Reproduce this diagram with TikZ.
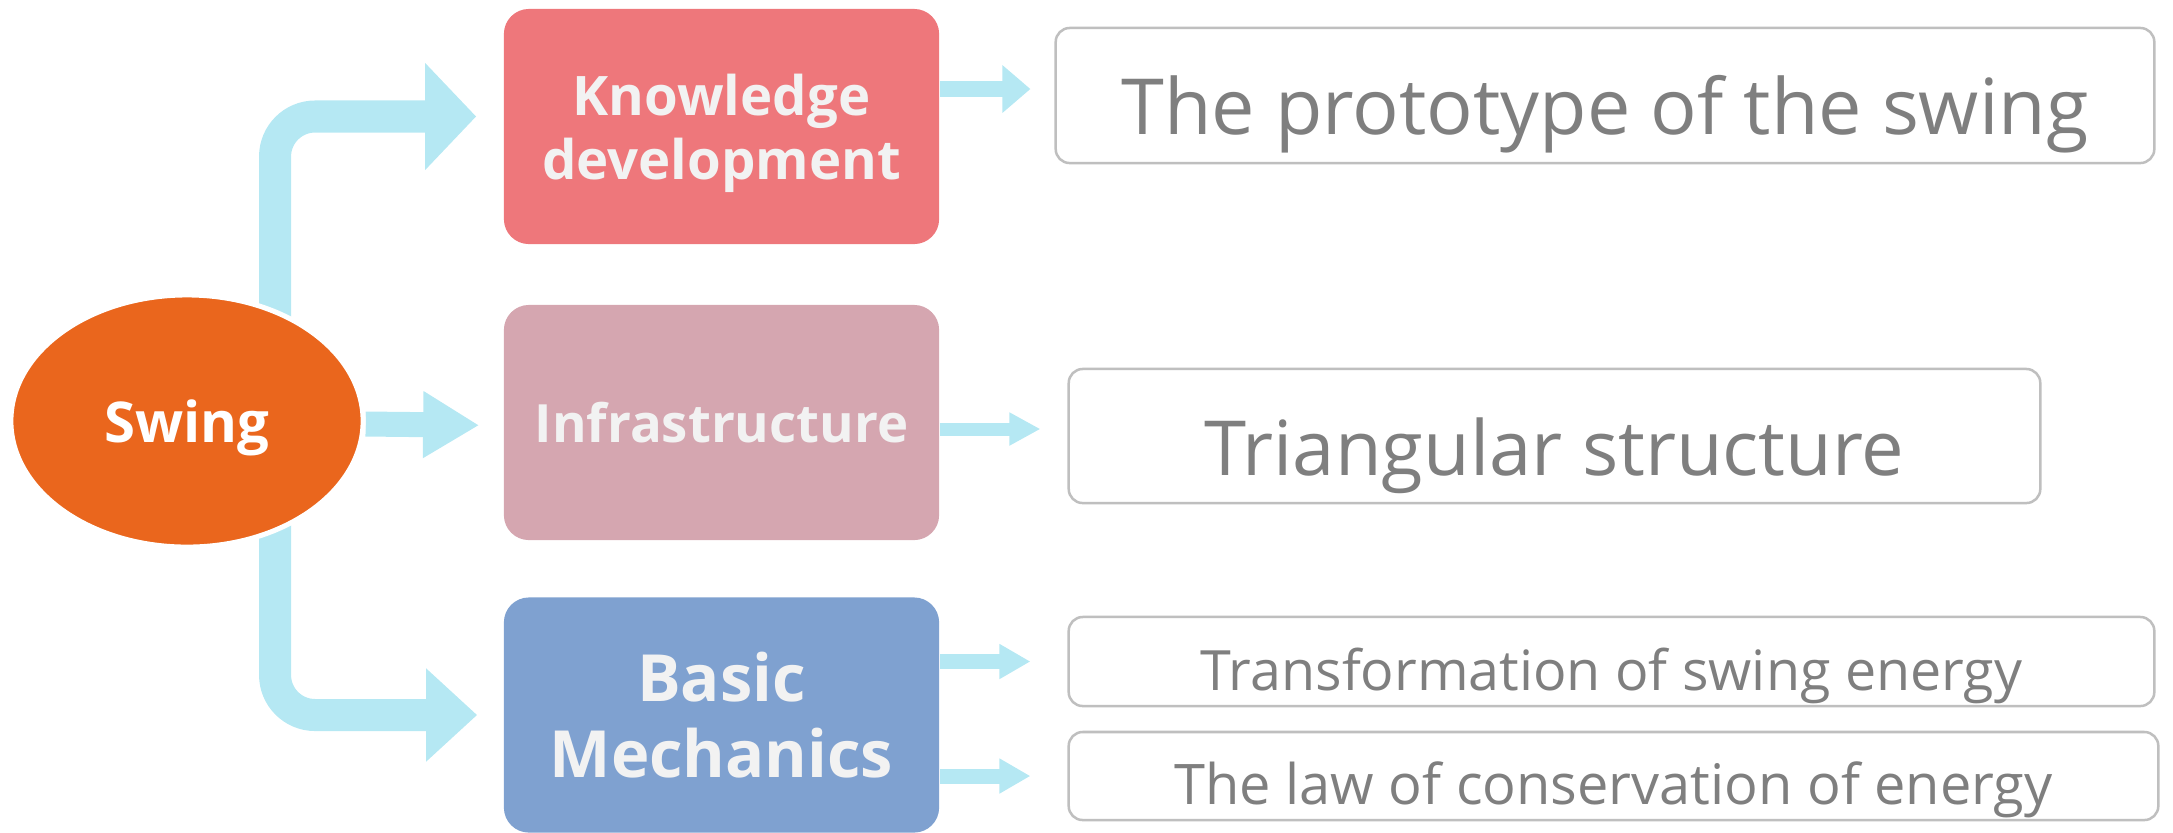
\documentclass[tikz,border=0pt]{standalone}
\usepackage{fontspec}
\setmainfont{Open Sans}
\usetikzlibrary{arrows.meta,backgrounds,shapes.geometric}
\definecolor{swingorange}{HTML}{EA661D}
\definecolor{knowred}{HTML}{EE777B}
\definecolor{infrapink}{HTML}{D5A6B0}
\definecolor{mechblue}{HTML}{7FA1D0}
\definecolor{flowblue}{HTML}{B5E8F3}
\definecolor{textgray}{HTML}{7F7F7F}
\definecolor{framegray}{HTML}{BFBFBF}
\begin{document}
\begin{tikzpicture}[x=0.01cm,y=-0.01cm,line join=round,
	topic/.style={rectangle,rounded corners=0.25cm,minimum width=4.35cm,minimum height=2.35cm,text=white!95!black,font=\bfseries,align=center},
	result/.style={rectangle,rounded corners=0.14cm,draw=framegray,line width=0.025cm,text=textgray,text depth=0pt,fill=white},
	flow/.style={draw=flowblue}]
	\useasboundingbox (0,0) rectangle (2173,832);
	\node[ellipse,fill=swingorange,draw=white,line width=0.05cm,minimum width=3.52cm,minimum height=2.52cm,text=white,text depth=0pt,font=\fontsize{16}{20}\bfseries] (swing) at (187,421) {Swing};
	\node[topic,fill=knowred,text depth=0pt,font=\fontsize{15.5}{18.2}\bfseries] (knowledge) at (721.5,126.5) {Knowledge\\development};
	\node[topic,fill=infrapink,font=\fontsize{15}{18}\bfseries] (infra) at (721.5,422.5) {Infrastructure};
	\node[topic,fill=mechblue,font=\fontsize{18.5}{21.5}\bfseries] (mech) at (721.5,715) {Basic\\Mechanics};
	\node[result,minimum width=10.98cm,minimum height=1.35cm,text height=0.78cm,font=\fontsize{22}{26}\selectfont] (proto) at (1605,95.5) {The prototype of the swing};
	\node[result,minimum width=9.71cm,minimum height=1.34cm,text height=0.78cm,font=\fontsize{21.6}{26}\selectfont] (tri) at (1554.5,436) {Triangular structure};
	\node[result,minimum width=10.85cm,minimum height=0.89cm,text height=0.57cm,font=\fontsize{15.8}{19}\selectfont] (trans) at (1611.5,661.5) {Transformation of swing energy};
	\node[result,minimum width=10.89cm,minimum height=0.88cm,text height=0.57cm,font=\fontsize{15.9}{19}\selectfont] (law) at (1613.5,776) {The law of conservation of energy};
	\begin{scope}[on background layer]
		\draw[flow,line width=0.32cm,rounded corners=0.4cm,-{Triangle[length=0.51cm,width=1.04cm]},shorten >=0.27cm] ([xshift=0.88cm]swing.center) |- ([yshift=0.1cm]knowledge.west);
		\draw[flow,line width=0.32cm,rounded corners=0.4cm,-{Triangle[length=0.51cm,width=0.9cm]},shorten >=0.26cm] ([xshift=0.88cm]swing.center) |- (mech.west);
		\draw[flow,line width=0.25cm,-{Triangle[length=0.56cm,width=0.63cm]},shorten >=0.24cm] ([yshift=-0.03cm]swing.east) -- ([yshift=-0.03cm]infra.west);
		\draw[flow,line width=0.16cm,-{Triangle[length=0.28cm,width=0.46cm]},shorten >=0.24cm] ([yshift=0.065cm]knowledge.east |- proto.west) -- ([yshift=0.065cm]proto.west);
		\draw[flow,line width=0.13cm,-{Triangle[length=0.31cm,width=0.31cm]},shorten >=0.27cm] ([yshift=-0.065cm]infra.east) -- ([yshift=-0.065cm]infra.east -| tri.west);
		\foreach \res in {trans,law}{\draw[flow,line width=0.15cm,-{Triangle[length=0.31cm,width=0.33cm]},shorten >=0.37cm] (mech.east |- \res.west) -- (\res.west);}
	\end{scope}
\end{tikzpicture}
\end{document}
